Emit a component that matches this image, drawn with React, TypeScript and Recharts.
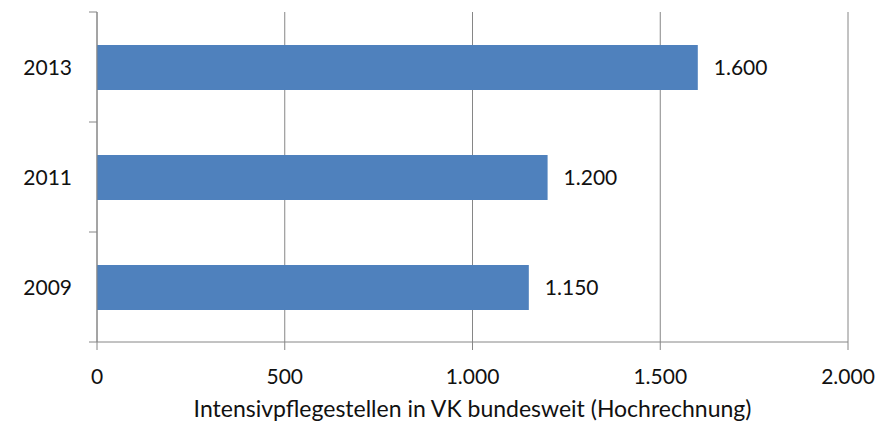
import {
  BarChart,
  Bar,
  XAxis,
  YAxis,
  CartesianGrid,
  LabelList,
} from "recharts";

const years = ["2013", "2011", "2009"];
const stellen = [1600, 1200, 1150];
const xTicks = [0, 500, 1000, 1500, 2000];
const xTitle = "Intensivpflegestellen in VK bundesweit (Hochrechnung)";

const data = years.map((year, i) => ({ year, value: stellen[i] }));

const FONT = "Lato, 'Open Sans', sans-serif";
const AXIS_GREY = "#868686";
const TEXT = "#111";

const WIDTH = 895;
const HEIGHT = 429;
const TOP = 12;
const X_AXIS_H = 87;
const Y_AXIS_W = 97;
const TICK_LEN = 8;
const Y_TICK_GAP = 17;
const BAND_HALF = (HEIGHT - TOP - X_AXIS_H) / years.length / 2;

// 1600 -> "1.600"
function fmtDe(v: number) {
  return String(Math.round(v)).replace(/\B(?=(\d{3})+(?!\d))/g, ".");
}

// category ticks sit between the bands, not at their centres
function YTick(props: any) {
  const { x, y, payload, index } = props;
  const axisX = x + Y_TICK_GAP + TICK_LEN;
  return (
    <g>
      <line x1={axisX - TICK_LEN} x2={axisX} y1={y - BAND_HALF} y2={y - BAND_HALF} stroke={AXIS_GREY} />
      {index === years.length - 1 && (
        <line x1={axisX - TICK_LEN} x2={axisX} y1={y + BAND_HALF} y2={y + BAND_HALF} stroke={AXIS_GREY} />
      )}
      <text x={x} y={y} dy="0.36em" textAnchor="end" fontSize={21} fontFamily={FONT} fill={TEXT}>
        {payload.value}
      </text>
    </g>
  );
}

export default function App() {
  return (
    <div style={{ position: "absolute", left: 0, top: 0, background: "#fff" }}>
      <BarChart
        width={WIDTH}
        height={HEIGHT}
        data={data}
        layout="vertical"
        margin={{ top: TOP, right: 47, bottom: 0, left: 0 }}
      >
        <CartesianGrid horizontal={false} stroke={AXIS_GREY} strokeWidth={1} />
        <XAxis
          type="number"
          domain={[0, 2000]}
          ticks={xTicks}
          tickFormatter={fmtDe}
          height={X_AXIS_H}
          tickSize={TICK_LEN}
          tickMargin={19}
          stroke={AXIS_GREY}
          tick={{ fontSize: 21, fontFamily: FONT, fill: TEXT }}
          label={{
            value: xTitle,
            position: "insideBottom",
            offset: 12,
            fontSize: 23,
            fontFamily: FONT,
            fill: TEXT,
          }}
        />
        <YAxis
          type="category"
          dataKey="year"
          width={Y_AXIS_W}
          tickLine={false}
          tickSize={TICK_LEN}
          tickMargin={Y_TICK_GAP}
          stroke={AXIS_GREY}
          tick={<YTick />}
        />
        <Bar dataKey="value" fill="#4F81BD" barSize={45} isAnimationActive={false}>
          <LabelList
            dataKey="value"
            position="right"
            offset={16}
            formatter={(v: any) => fmtDe(Number(v))}
            fontSize={21}
            fontFamily={FONT}
            fill={TEXT}
          />
        </Bar>
      </BarChart>
    </div>
  );
}
